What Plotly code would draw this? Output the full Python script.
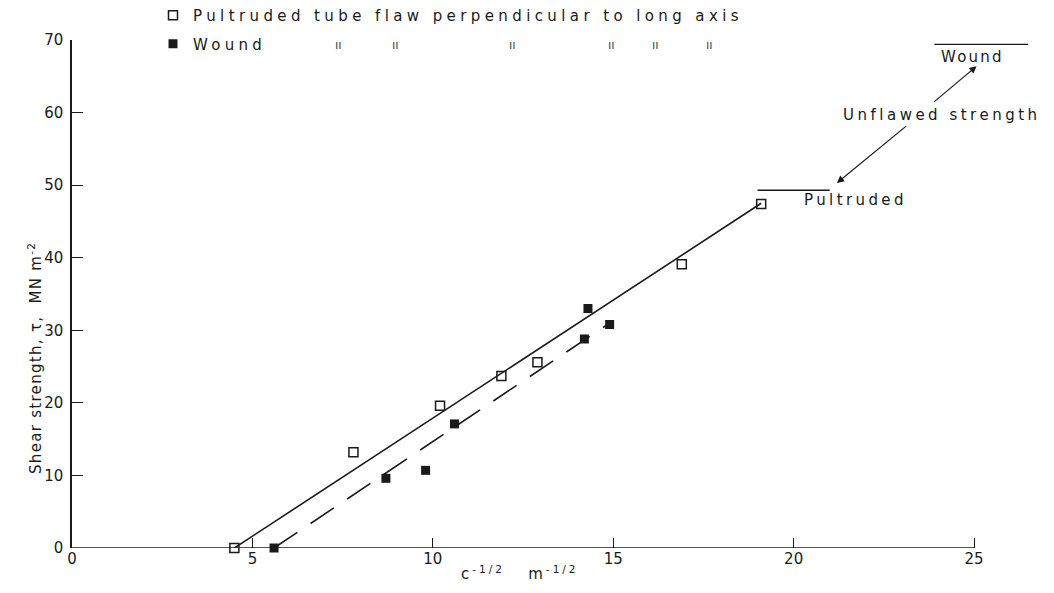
import plotly.graph_objects as go

# ---- data ----
pultruded_x = [4.5, 7.8, 10.2, 11.9, 12.9, 16.9, 19.1]
pultruded_y = [0.0, 13.2, 19.6, 23.7, 25.6, 39.1, 47.4]
wound_x = [5.6, 8.7, 9.8, 10.6, 14.3, 14.2, 14.9]
wound_y = [0.0, 9.6, 10.7, 17.1, 33.0, 28.8, 30.8]

pultruded_fit_x = [4.5, 19.1]
pultruded_fit_y = [0.0, 47.5]
wound_fit_x = [5.6, 14.9]
wound_fit_y = [0.0, 31.0]

unflawed_pultruded_x = [19.0, 21.0]
unflawed_pultruded_y = [49.3, 49.3]
unflawed_wound_x = [23.9, 26.5]
unflawed_wound_y = [69.4, 69.4]

x_ticks = [0, 5, 10, 15, 20, 25]
y_ticks = [0, 10, 20, 30, 40, 50, 60, 70]

FONT = "DejaVu Sans"
INK = "#1a1a1a"
FS = 15


def spaced(text, px):
    return '<span style="letter-spacing:%.1fpx">%s</span>' % (px, text)


# page pixel -> paper coordinates (plot area spans x 72..1039, y 40..548 on the page)
def paper_x(px):
    return (px - 72) / 967


def paper_y(py):
    return (548 - py) / 508


fig = go.Figure()

# fit lines
fig.add_trace(go.Scatter(x=pultruded_fit_x, y=pultruded_fit_y, mode="lines",
                         line=dict(color=INK, width=1.6), showlegend=False,
                         cliponaxis=False, hoverinfo="skip"))
fig.add_trace(go.Scatter(x=wound_fit_x, y=wound_fit_y, mode="lines",
                         line=dict(color=INK, width=1.6, dash="28px,16px"),
                         showlegend=False, cliponaxis=False, hoverinfo="skip"))
# unflawed strength levels
fig.add_trace(go.Scatter(x=unflawed_pultruded_x, y=unflawed_pultruded_y, mode="lines",
                         line=dict(color=INK, width=1.4), showlegend=False,
                         cliponaxis=False, hoverinfo="skip"))
fig.add_trace(go.Scatter(x=unflawed_wound_x, y=unflawed_wound_y, mode="lines",
                         line=dict(color=INK, width=1.4), showlegend=False,
                         cliponaxis=False, hoverinfo="skip"))

# data points
fig.add_trace(go.Scatter(x=pultruded_x, y=pultruded_y, mode="markers",
                         name=spaced("Pultruded tube flaw perpendicular to long axis", 4.4),
                         marker=dict(symbol="square-open", size=9, color=INK,
                                     line=dict(width=1.5, color=INK)),
                         cliponaxis=False, legendgroup="a"))
fig.add_trace(go.Scatter(x=wound_x, y=wound_y, mode="markers", name=spaced("Wound", 4.3),
                         marker=dict(symbol="square", size=9, color=INK),
                         cliponaxis=False, legendgroup="b"))

annotations = [
    dict(x=24.96, y=67.6, xref="x", yref="y", text=spaced("Wound", 2.2), showarrow=False,
         font=dict(family=FONT, size=FS, color=INK)),
    dict(x=24.12, y=59.7, xref="x", yref="y", text=spaced("Unflawed strength", 3.5),
         showarrow=False, font=dict(family=FONT, size=FS, color=INK)),
    dict(x=21.72, y=47.9, xref="x", yref="y", text=spaced("Pultruded", 3.4),
         showarrow=False, font=dict(family=FONT, size=FS, color=INK)),
    # arrows
    dict(x=25.07, y=66.4, ax=23.85, ay=61.3, xref="x", yref="y", axref="x", ayref="y",
         text="", showarrow=True, arrowhead=2, arrowsize=1.2, arrowwidth=1.2,
         arrowcolor=INK),
    dict(x=21.2, y=50.3, ax=23.16, ay=58.3, xref="x", yref="y", axref="x", ayref="y",
         text="", showarrow=True, arrowhead=2, arrowsize=1.2, arrowwidth=1.2,
         arrowcolor=INK),
    # axis titles
    dict(x=paper_x(520), y=paper_y(585), xref="paper", yref="paper", yanchor="bottom",
         text=spaced("c<sup>-1/2</sup>   m<sup>-1/2</sup>", 3.0), showarrow=False,
         font=dict(family=FONT, size=FS, color=INK)),
    dict(x=paper_x(23), y=paper_y(358), xref="paper", yref="paper", textangle=-90,
         text=spaced("Shear strength, τ,  MN m<sup>-2</sup>", 1.3), showarrow=False,
         font=dict(family=FONT, size=FS, color=INK)),
]
# ditto marks under the legend words (tube, flaw, perpendicular, to, long, axis)
for px in [333, 395, 512, 611, 655, 709]:
    annotations.append(dict(x=paper_x(px), y=paper_y(36), xref="paper", yref="paper",
                            text="ıı", showarrow=False,
                            font=dict(family=FONT, size=12, color="#444")))

fig.update_layout(
    width=1038, height=577,
    margin=dict(l=64, r=7, t=32, b=37, autoexpand=False),
    paper_bgcolor="white", plot_bgcolor="white",
    font=dict(family=FONT, size=FS, color=INK),
    showlegend=True,
    legend=dict(x=paper_x(153), y=paper_y(-1), xanchor="left", yanchor="top",
                bgcolor="rgba(0,0,0,0)", traceorder="grouped", tracegroupgap=6,
                font=dict(family=FONT, size=FS, color=INK)),
    annotations=annotations,
    shapes=[dict(type="line", xref="x", yref="y", x0=x_ticks[0], x1=x_ticks[-1], y0=0, y1=0,
                 line=dict(color=INK, width=1.5), layer="below")],
)
fig.update_xaxes(range=[0, 26.8], tickvals=x_ticks, ticks="inside", ticklen=10,
                 tickcolor=INK, tickwidth=1.2, showgrid=False, zeroline=False,
                 showline=False, automargin=False,
                 tickfont=dict(family=FONT, size=FS, color=INK))
fig.update_yaxes(range=[0, 70], tickvals=y_ticks, ticks="inside", ticklen=11,
                 tickcolor=INK, tickwidth=1.2, showgrid=False, zeroline=False,
                 showline=True, linecolor=INK, linewidth=1.5, automargin=False,
                 ticklabelstandoff=4,
                 tickfont=dict(family=FONT, size=FS, color=INK))

fig.write_html("out.html")
